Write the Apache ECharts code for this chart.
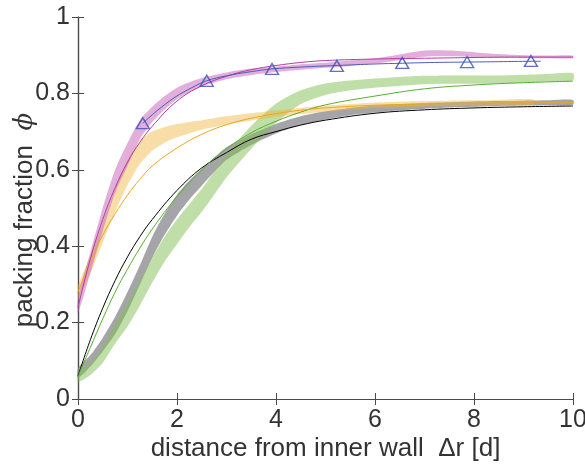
<!DOCTYPE html>
<html>
<head>
<meta charset="utf-8">
<script src="https://cdn.jsdelivr.net/npm/echarts@6/dist/echarts.min.js"></script>
<style>html,body{margin:0;padding:0;background:#fff}#c{width:585px;height:464px}</style>
</head>
<body>
<div id="c"></div>
<script>
// ---- data ----
var xTicks = [0, 2, 4, 6, 8, 10];
var yTicks = [0, 0.2, 0.4, 0.6, 0.8, 1];

// band x positions
var bandX = [0,0.25,0.5,0.75,1,1.25,1.5,1.75,2,2.25,2.5,2.75,3,3.5,4,4.5,5,5.5,6,6.5,7,7.5,8,8.5,9,9.5,10];

var grayLow  = [0.055,0.085,0.125,0.17,0.23,0.3,0.37,0.43,0.48,0.522,0.558,0.594,0.626,0.665,0.695,0.717,0.732,0.743,0.75,0.756,0.76,0.763,0.765,0.767,0.768,0.769,0.77];
var grayHigh = [0.08,0.115,0.16,0.215,0.28,0.35,0.425,0.485,0.535,0.572,0.602,0.632,0.659,0.693,0.72,0.74,0.753,0.762,0.768,0.772,0.775,0.777,0.779,0.78,0.781,0.782,0.783];

var greenLow  = [0.045,0.063,0.095,0.145,0.19,0.245,0.305,0.36,0.405,0.45,0.49,0.535,0.58,0.655,0.722,0.772,0.796,0.808,0.815,0.82,0.824,0.825,0.825,0.826,0.828,0.831,0.834];
var greenHigh = [0.068,0.095,0.135,0.195,0.25,0.31,0.37,0.425,0.47,0.51,0.55,0.595,0.64,0.715,0.773,0.808,0.826,0.834,0.839,0.843,0.846,0.847,0.847,0.847,0.849,0.851,0.853];

var magentaLow  = [0.225,0.33,0.44,0.54,0.61,0.68,0.725,0.758,0.785,0.803,0.818,0.828,0.837,0.848,0.856,0.862,0.867,0.872,0.878,0.887,0.896,0.897,0.895,0.893,0.892,0.892,0.892];
var magentaHigh = [0.265,0.385,0.5,0.6,0.67,0.73,0.765,0.793,0.815,0.829,0.84,0.848,0.855,0.865,0.87,0.876,0.88,0.886,0.892,0.902,0.912,0.912,0.908,0.903,0.9,0.899,0.899];

var orangeX    = [0,0.25,0.5,0.75,1,1.25,1.5,1.75,2,2.5,3,3.5,4,4.5,5,5.5,6,6.5,7,7.5,8,8.5,9.2];
var orangeLow  = [0.265,0.33,0.41,0.49,0.56,0.615,0.65,0.671,0.685,0.705,0.718,0.729,0.738,0.746,0.752,0.758,0.762,0.764,0.766,0.767,0.768,0.769,0.77];
var orangeHigh = [0.295,0.375,0.46,0.55,0.625,0.675,0.7,0.712,0.72,0.73,0.74,0.748,0.755,0.762,0.768,0.772,0.776,0.778,0.78,0.781,0.782,0.783,0.784];

// thin fitted curves
var lineX      = [0,0.25,0.5,0.75,1,1.25,1.5,2,2.5,3,3.5,4,4.5,5,6,7,8,9,10];
var blackLine  = [0.06,0.155,0.238,0.31,0.372,0.425,0.47,0.546,0.605,0.645,0.68,0.70,0.717,0.73,0.748,0.757,0.762,0.765,0.767];
var greenLine  = [0.06,0.135,0.21,0.28,0.34,0.395,0.445,0.53,0.6,0.655,0.697,0.727,0.751,0.77,0.793,0.812,0.822,0.828,0.832];
var orangeLine = [0.28,0.36,0.429,0.485,0.534,0.575,0.61,0.657,0.693,0.718,0.735,0.747,0.756,0.762,0.769,0.772,0.774,0.775,0.776];
var magentaLine= [0.24,0.367,0.47,0.553,0.62,0.672,0.714,0.78,0.82,0.845,0.862,0.873,0.881,0.886,0.89,0.892,0.894,0.895,0.895];

// blue curve with triangle markers
var blueX = [1.31,1.6,1.96,2.3,2.6,3,3.5,3.92,4.5,5.23,6,6.55,7.2,7.86,8.5,9.15,9.35];
var blueY = [0.722,0.755,0.79,0.815,0.833,0.846,0.857,0.864,0.869,0.873,0.877,0.879,0.881,0.882,0.883,0.884,0.884];
var triX = [1.31,2.6,3.92,5.23,6.55,7.86,9.15];
var triY = [0.722,0.833,0.864,0.872,0.88,0.882,0.885];

// ---- build ----
function pairs(xs, ys){ return xs.map(function(x,i){ return [x, ys[i]]; }); }
function band(xs, lo, hi, fill, z){
  return {
    type:'custom', z:z, silent:true,
    data:[[xs[0], lo[0]]],
    renderItem:function(params, api){
      var pts = [];
      for (var i=0;i<xs.length;i++) pts.push(api.coord([xs[i], hi[i]]));
      for (var j=xs.length-1;j>=0;j--) pts.push(api.coord([xs[j], lo[j]]));
      return {type:'polygon', shape:{points:pts, smooth:0.25}, style:{fill:fill, stroke:null}};
    }
  };
}
function thin(xs, ys, color, z, w){
  return {type:'line', data:pairs(xs, ys), smooth:0.4, showSymbol:false, z:z,
          lineStyle:{color:color, width:w||1}, silent:true};
}
var txt = '#333333';
var axisCol = '#4a4a4a';
var font = 'Liberation Sans, Arial, Helvetica, sans-serif';

var chart = echarts.init(document.getElementById('c'), null, {renderer:'canvas'});
chart.setOption({
  animation:false,
  backgroundColor:'#ffffff',
  grid:{left:78, right:12, top:17, bottom:65, containLabel:false, outerBoundsMode:'none'},
  xAxis:[{
    type:'value', min:0, max:10, interval:2, position:'bottom',
    axisLine:{lineStyle:{color:axisCol, width:1.2}},
    axisTick:{inside:true, length:6, lineStyle:{color:axisCol}},
    splitLine:{show:false},
    axisLabel:{fontSize:25, color:txt, fontFamily:font, margin:9,
      formatter:function(v){ return xTicks.indexOf(v)>=0 ? String(v) : ''; }},
    name:'distance from inner wall  \u0394r [d]', nameLocation:'middle', nameGap:37, nameMoveOverlap:false,
    nameTextStyle:{fontSize:26, color:txt, fontFamily:font}
  },{
    type:'value', min:0, max:10, interval:2, position:'top',
    axisLine:{lineStyle:{color:axisCol, width:1.2}},
    axisTick:{inside:true, length:6, lineStyle:{color:axisCol}},
    axisLabel:{show:false}, splitLine:{show:false}
  }],
  yAxis:[{
    type:'value', min:0, max:1, interval:0.2, position:'left',
    axisLine:{lineStyle:{color:axisCol, width:1.2}},
    axisTick:{inside:true, length:6, lineStyle:{color:axisCol}},
    splitLine:{show:false},
    axisLabel:{fontSize:25, color:txt, fontFamily:font, margin:8,
      formatter:function(v){ var t = yTicks.filter(function(k){return Math.abs(k-v)<1e-6;}); return t.length? (t[0]===0?'0':t[0]===1?'1':t[0].toFixed(1)) : ''; }},
    name:'packing fraction  {i|\u03D5}', nameLocation:'middle', nameGap:40, nameMoveOverlap:false,
    nameTextStyle:{fontSize:26, color:txt, fontFamily:font, padding:[0,24,0,0],
      rich:{i:{fontSize:26, fontStyle:'italic', color:txt, fontFamily:'DejaVu Serif, serif'}}}
  },{
    type:'value', min:0, max:1, interval:0.2, position:'right',
    axisLine:{lineStyle:{color:axisCol, width:1.2}},
    axisTick:{inside:true, length:6, lineStyle:{color:axisCol}},
    axisLabel:{show:false}, splitLine:{show:false}
  }],
  series:[
    band(bandX, grayLow, grayHigh, 'rgba(140,140,145,0.78)', 1),
    band(bandX, greenLow, greenHigh, 'rgba(130,190,80,0.5)', 2),
    band(orangeX, orangeLow, orangeHigh, 'rgba(240,180,60,0.45)', 3),
    band(bandX, magentaLow, magentaHigh, 'rgba(195,95,180,0.5)', 4),
    thin(lineX, blackLine, '#000000', 5),
    thin(lineX, greenLine, '#55b030', 5),
    thin(lineX, orangeLine, '#eaa820', 5),
    thin(lineX, magentaLine, '#b83aa6', 5),
    thin(blueX, blueY, '#4a5cc0', 6),
    {type:'scatter', data:pairs(triX, triY), symbol:'triangle', symbolSize:[13,11], z:7, silent:true,
     itemStyle:{color:'rgba(255,255,255,0)', borderColor:'#3a4fb8', borderWidth:1.4}}
  ]
});
</script>
</body>
</html>
